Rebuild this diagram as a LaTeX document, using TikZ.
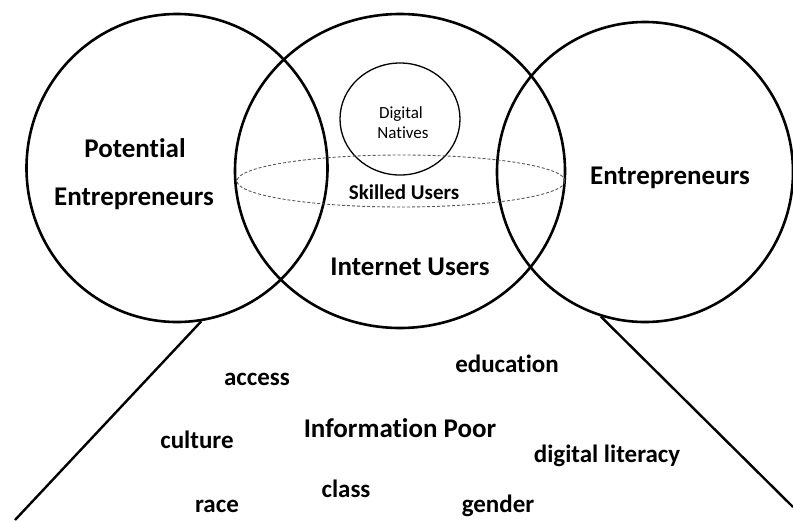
\documentclass[tikz,border=0pt]{standalone}
\usepackage{fontspec}
\setmainfont{Carlito}[Ligatures=NoCommon]
\usetikzlibrary{shapes.geometric}
\begin{document}
\begin{tikzpicture}[x=1pt,y=-1pt,
  ring/.style={ellipse, draw, line width=2.6pt, inner sep=0pt},
  thinring/.style={ellipse, draw, line width=1.3pt, inner sep=0pt},
  dashring/.style={ellipse, draw=black!65, dashed, dash pattern=on 3pt off 2pt, line width=0.9pt, inner sep=0pt},
  big/.style={font=\fontsize{27}{32}\selectfont\bfseries, anchor=base, inner sep=0pt},
  word/.style={font=\fontsize{25}{30}\selectfont\bfseries, anchor=base, inner sep=0pt},
  mid/.style={font=\fontsize{21}{25}\selectfont\bfseries, anchor=base, inner sep=0pt},
  small/.style={font=\fontsize{17}{20}\selectfont, anchor=base, inner sep=0pt},
  edge/.style={line width=2.4pt}]
\useasboundingbox (0,0) rectangle (793,520);

% the three sets
\node[ring, minimum width=301pt, minimum height=308pt] (pot) at (177,168) {};
\node[ring, minimum width=330pt, minimum height=314pt] (net) at (400,171) {};
\node[ring, minimum width=296pt, minimum height=300pt] (ent) at (645,172) {};

% subsets of the internet users
\node[thinring, minimum width=120pt, minimum height=112pt] (nat) at (400,119) {};
\node[dashring, minimum width=328pt, minimum height=52pt] (skill) at (401,181) {};

% labels of the sets
\node[big] (potA) at (135,157) {Potential};
\node[big] (potB) at (134,205) {Entrepreneurs};
\node[big] (entL) at (670,184) {Entrepreneurs};
\node[big] (netL) at (410,275) {Internet Users};
\node[mid] (skillL) at (404,199) {Skilled Users};
\node[small] (natA) at (401,118) {Digital};
\node[small] (natB) at (403,138) {Natives};

% the widening region below
\coordinate (lfoot) at (15,520);
\coordinate (rfoot) at (793,507);
\draw[edge] (pot.-81) -- (lfoot);
\draw[edge] (ent.-107) -- (rfoot);

\node[big] (poor) at (400,437) {Information Poor};
\node[word] (access) at (257,385) {access};
\node[word] (edu) at (507,372) {education};
\node[word] (cult) at (197,448) {culture};
\node[word] (lit) at (607,462) {digital literacy};
\node[word] (class) at (346,497) {class};
\node[word] (race) at (217,512) {race};
\node[word] (gender) at (498,512) {gender};
\end{tikzpicture}
\end{document}
